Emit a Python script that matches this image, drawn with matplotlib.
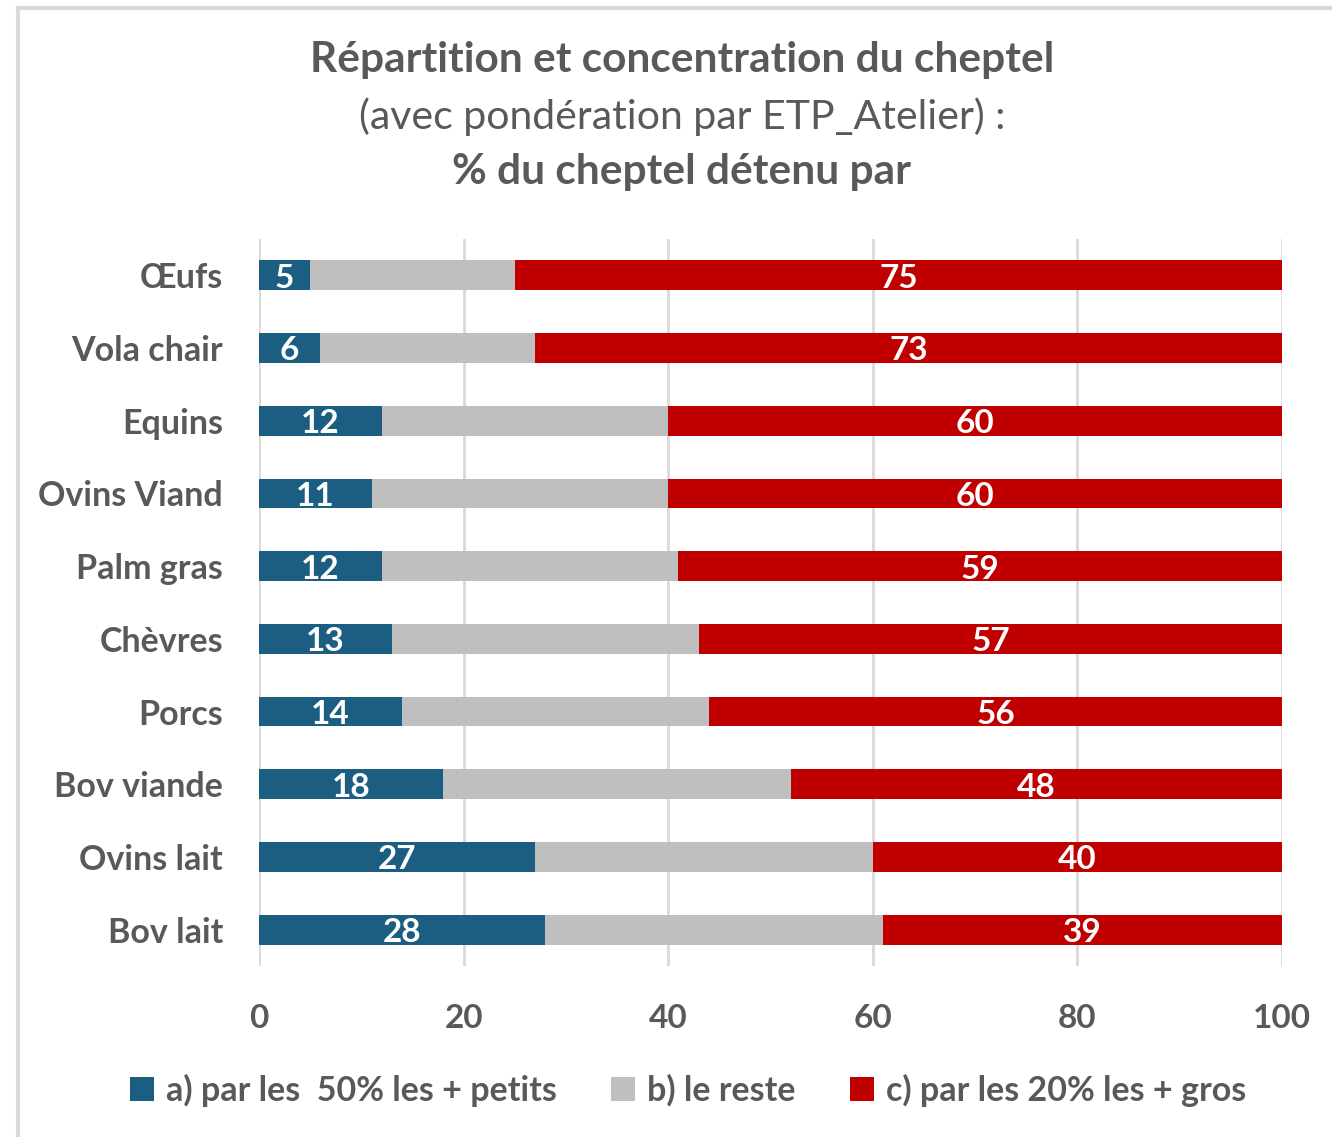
import matplotlib
matplotlib.use("Agg")
import matplotlib.pyplot as plt
from matplotlib.patches import Rectangle, Patch
import numpy as np

plt.rcParams['font.family'] = ['Lato', 'DejaVu Sans']

categories = ["Œufs", "Vola chair", "Equins", "Ovins Viand", "Palm gras",
              "Chèvres", "Porcs", "Bov viande", "Ovins lait", "Bov lait"]
petits = [5, 6, 12, 11, 12, 13, 14, 18, 27, 28]
reste = [20, 21, 28, 29, 29, 30, 30, 34, 33, 33]
gros = [75, 73, 60, 60, 59, 57, 56, 48, 40, 39]
series_names = ["a) par les  50% les + petits", "b) le reste", "c) par les 20% les + gros"]
colors = ["#1B5E82", "#BFBFBF", "#C00000"]
text_col = "#595959"

fig = plt.figure(figsize=(13.32, 11.37), dpi=100)
# light frame of the chart area
fig.patches.append(Rectangle((18 / 1332, -0.01), 1.05, 1 - 8 / 1137 + 0.01,
                             transform=fig.transFigure, fill=False,
                             edgecolor="#D9D9D9", linewidth=3))

ax = fig.add_axes([259 / 1332, 1 - 966 / 1137, (1282 - 259) / 1332, (966 - 239) / 1137])

y = np.arange(len(categories))
h = 0.41
left = np.zeros(len(categories))
for vals, col, name in zip([petits, reste, gros], colors, series_names):
    vals = np.array(vals, dtype=float)
    ax.barh(y, vals, left=left, height=h, color=col, label=name, zorder=2)
    if col != colors[1]:
        for yi, l, v in zip(y, left, vals):
            ax.text(l + v / 2, yi + 0.04, f"{v:.0f}", ha="center", va="center",
                    color="white", fontsize=24, fontweight="bold", zorder=3)
    left += vals

ax.set_xlim(0, 100)
ax.set_ylim(len(categories) - 0.5, -0.5)
ax.set_xticks(range(0, 101, 20))
ax.set_yticks(y)
ax.set_yticklabels(categories)
ax.grid(axis="x", color="#D9D9D9", linewidth=2, zorder=0)
ax.set_axisbelow(True)
for s in ax.spines.values():
    s.set_visible(False)
ax.tick_params(axis="both", length=0, labelcolor=text_col)
ax.tick_params(axis="x", pad=27, labelsize=24)
ax.tick_params(axis="y", pad=26, labelsize=24.5)
for t in ax.get_xticklabels() + ax.get_yticklabels():
    t.set_fontweight("bold")

fig.text(682 / 1332, 1 - 60 / 1137, "Répartition et concentration du cheptel",
         ha="center", va="center", fontsize=30.5, fontweight="bold", color=text_col)
fig.text(682 / 1332, 1 - 117 / 1137, "(avec pondération par ETP_Atelier) :",
         ha="center", va="center", fontsize=29.5, color=text_col)
fig.text(682 / 1332, 1 - 172 / 1137, "% du cheptel détenu par",
         ha="center", va="center", fontsize=30.5, fontweight="bold", color=text_col)

handles = [Patch(facecolor=c) for c in colors]
leg = fig.legend(handles, series_names, loc="center", bbox_to_anchor=(688 / 1332, 1 - 1090 / 1137),
                 ncol=3, frameon=False, fontsize=24.5, handlelength=0.7, handleheight=0.7,
                 handletextpad=0.35, columnspacing=1.6)
for t in leg.get_texts():
    t.set_color(text_col)
    t.set_fontweight("bold")

fig.savefig("out.png", dpi=100, facecolor="white")
